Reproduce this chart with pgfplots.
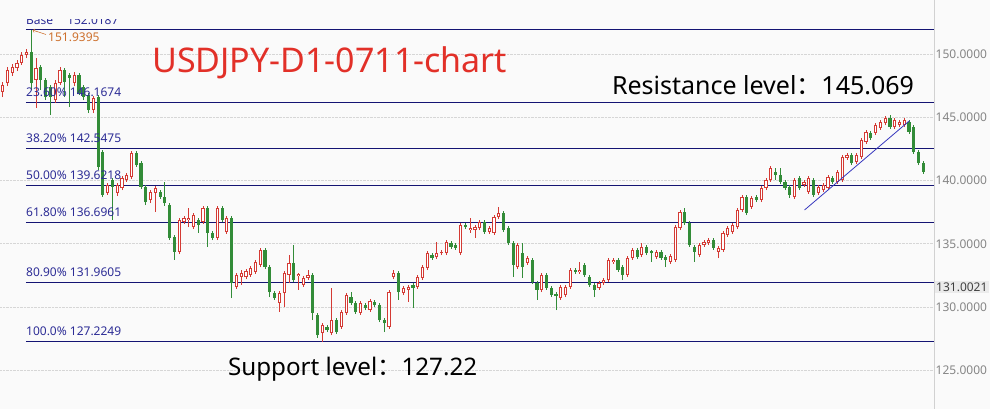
\documentclass[border=0pt]{standalone}
\usepackage{fontspec}
\setmainfont{Noto Sans}
\newfontfamily\cjk{Noto Sans CJK SC}
\usepackage{pgfplots}
\usepackage{pgfplotstable}
\pgfplotsset{compat=1.18}

\definecolor{upred}{RGB}{212,58,52}
\definecolor{dngreen}{RGB}{50,140,56}
\definecolor{fibline}{RGB}{20,20,115}
\definecolor{fibtext}{RGB}{45,45,150}
\definecolor{titlered}{RGB}{226,48,40}
\definecolor{basetxt}{RGB}{205,112,45}
\definecolor{trendblue}{RGB}{55,55,190}

% daily candles, rising (red, hollow)
\pgfplotstableread{
i O H L C
0 147.03 147.82 146.63 147.58
1 147.74 149.01 147.50 148.77
2 148.53 149.25 148.30 149.01
3 148.93 149.56 148.69 149.33
4 149.33 150.20 149.17 149.96
5 149.96 150.44 149.72 150.20
7 147.98 149.72 145.76 148.93
11 146.39 147.98 146.16 147.74
12 147.74 149.01 147.58 148.77
15 147.74 148.61 147.50 148.38
19 145.60 146.71 145.36 146.55
22 139.03 139.82 138.87 139.66
24 139.03 139.82 138.79 139.66
25 139.42 140.37 139.26 140.21
26 140.06 140.61 139.90 140.45
27 140.29 142.35 140.13 142.19
31 138.47 139.26 138.23 139.10
32 139.03 139.58 137.52 139.42
37 134.35 137.04 134.19 136.89
38 136.73 137.20 136.57 137.04
39 136.89 137.84 136.33 137.04
40 136.33 137.44 136.17 137.28
42 136.73 138.00 136.57 137.84
45 135.46 138.00 135.30 137.84
47 135.93 137.20 135.78 137.04
49 131.58 132.69 131.42 132.53
50 132.37 132.92 131.74 132.69
51 132.37 133.00 132.21 132.84
52 132.53 133.24 132.37 133.08
53 132.77 133.72 132.61 133.56
54 133.32 134.67 133.16 134.51
58 130.31 131.26 129.60 131.10
59 131.10 132.84 129.99 132.69
60 132.53 134.11 131.89 133.48
62 132.45 132.69 131.34 132.61
63 131.74 132.45 131.58 132.29
64 132.29 132.92 132.13 132.53
67 127.93 128.72 127.22 128.57
69 127.93 131.50 127.77 128.96
71 128.41 129.75 128.25 129.60
72 129.52 131.10 129.36 130.94
75 129.52 130.47 129.36 130.31
77 129.75 130.63 129.60 130.47
81 128.41 131.34 128.25 131.18
82 132.37 132.92 132.21 132.69
84 131.10 131.66 130.94 131.50
85 131.34 131.74 130.39 131.58
87 131.58 132.53 131.42 132.37
88 132.29 133.32 132.13 133.16
89 133.08 134.43 132.92 134.27
91 133.95 135.14 133.80 134.27
92 134.27 134.51 134.11 134.35
93 134.27 135.30 134.11 135.14
96 134.27 136.65 134.11 136.49
98 136.09 137.04 135.86 136.25
99 136.09 136.49 135.46 136.33
100 136.25 136.89 136.09 136.73
102 135.93 136.41 135.78 136.25
103 135.86 137.28 135.70 137.12
104 137.12 137.92 136.96 137.44
108 133.16 135.06 133.00 134.90
110 133.48 134.03 133.32 133.87
113 131.34 132.69 131.18 132.53
117 130.70 131.74 130.55 131.58
118 130.94 131.74 130.78 131.58
119 131.58 133.08 131.42 132.92
121 132.77 133.56 132.61 132.92
125 131.50 132.05 131.34 131.89
126 131.89 132.29 131.74 132.13
127 132.13 133.87 131.97 133.72
128 133.56 133.87 133.40 133.72
131 132.53 134.03 132.37 133.87
132 133.87 134.67 133.72 134.51
134 134.11 135.06 133.95 134.75
137 133.95 134.51 133.80 134.35
140 133.56 134.19 133.40 134.03
141 133.72 136.49 133.56 136.33
142 136.25 137.68 136.09 137.52
146 134.11 135.06 133.95 134.90
147 134.90 135.30 134.75 135.14
148 135.06 135.46 134.90 135.30
150 134.35 134.83 133.87 134.67
151 134.51 136.01 134.35 135.86
152 135.70 136.41 135.54 136.25
153 135.93 136.65 135.78 136.49
154 136.33 137.84 136.17 137.68
155 137.68 138.87 137.52 138.71
157 137.92 138.79 137.76 138.63
159 138.47 139.58 138.31 139.42
160 139.42 140.21 139.26 140.06
161 140.06 141.16 139.90 141.01
166 138.71 140.21 138.55 140.06
168 139.66 140.06 139.50 139.90
169 139.10 140.37 138.95 140.21
171 139.03 139.66 138.87 139.50
172 139.26 139.82 139.10 139.66
173 139.42 140.45 139.26 140.29
175 139.90 140.85 139.74 140.69
176 140.06 142.04 139.90 141.88
177 141.80 142.19 141.64 142.04
179 141.48 142.19 141.32 142.04
180 141.88 143.38 141.72 143.22
181 143.07 144.02 142.91 143.86
183 143.78 144.57 143.62 144.41
184 144.18 144.81 144.02 144.65
185 144.57 145.13 144.41 144.97
187 144.26 144.97 144.10 144.81
188 144.41 144.81 144.26 144.65
189 144.41 144.97 144.26 144.81
}\upcandles

% daily candles, falling (green, filled)
\pgfplotstableread{
i O H L C
6 150.20 151.94 147.19 147.74
8 149.01 149.17 147.19 147.98
9 147.98 148.14 146.39 146.63
10 147.42 147.58 145.21 146.63
13 148.77 148.93 146.63 147.82
14 148.38 148.53 145.84 148.14
16 148.38 148.53 146.79 146.95
17 147.42 147.58 146.39 146.63
18 146.79 146.95 145.36 145.60
20 146.63 146.79 140.85 141.09
21 142.27 142.43 138.71 138.87
23 140.06 140.21 136.89 139.50
28 142.19 142.35 141.09 141.24
29 141.40 141.56 139.34 139.50
30 139.50 139.66 138.07 138.31
33 139.10 139.26 138.55 138.71
34 138.71 139.90 138.00 138.23
35 138.07 138.23 135.30 135.46
36 135.54 135.70 133.72 134.35
41 136.89 137.04 135.86 136.49
43 137.84 138.00 134.75 135.86
44 135.86 136.01 135.30 135.46
46 137.84 138.00 136.73 136.89
48 137.04 137.20 130.70 131.89
55 134.51 134.67 133.00 133.16
56 133.16 133.32 130.78 131.18
57 131.10 131.26 130.55 130.70
61 133.48 134.90 131.97 132.13
65 132.53 132.69 128.96 129.52
66 129.36 129.52 127.54 127.77
68 128.41 128.57 128.01 128.17
70 128.96 129.12 127.85 128.01
73 130.78 131.18 130.15 130.31
74 130.31 130.47 129.44 129.60
76 130.15 130.31 129.75 129.91
78 130.39 130.55 129.99 130.15
79 130.15 130.31 128.80 128.96
80 128.96 129.12 128.01 128.72
83 132.69 132.84 130.55 131.18
86 131.74 131.89 129.91 131.50
90 134.11 134.27 133.72 133.87
94 135.06 135.22 134.59 134.75
95 134.90 135.06 134.51 134.67
97 136.49 136.65 136.17 136.33
101 136.73 136.89 135.78 135.93
105 137.44 137.60 135.93 136.09
106 136.25 136.41 134.90 135.06
107 135.06 135.22 132.37 133.32
109 134.27 135.06 132.29 133.16
111 133.72 133.87 131.81 131.97
112 131.89 132.05 130.55 131.34
114 132.53 132.69 131.34 131.50
115 131.50 131.66 130.78 130.94
116 131.02 131.18 129.75 130.86
120 132.92 133.08 132.61 132.77
122 133.32 133.48 132.37 132.53
123 132.37 132.53 131.58 131.74
124 131.74 131.89 130.78 131.34
129 133.72 133.87 132.77 132.92
130 133.16 133.32 132.13 132.53
133 134.51 134.67 133.80 133.95
135 134.75 134.90 134.11 134.27
136 134.43 134.51 133.56 134.27
138 134.35 134.51 133.72 133.87
139 133.95 134.11 133.16 133.72
143 137.52 137.84 136.49 136.65
144 136.65 136.81 134.75 134.90
145 134.75 134.90 133.56 134.35
149 135.30 135.46 134.51 134.67
156 138.71 138.87 137.28 137.44
158 138.71 138.87 138.31 138.47
162 140.69 141.01 140.06 140.45
163 140.45 141.01 139.74 139.90
164 139.90 140.06 139.26 139.42
165 139.50 139.66 138.63 138.87
167 140.21 140.37 139.26 139.42
170 140.06 140.21 138.71 138.87
174 140.21 140.37 139.74 139.90
178 142.04 142.19 141.24 141.40
182 143.78 143.94 143.22 143.38
186 144.97 145.21 144.10 144.26
190 144.65 144.81 143.70 143.86
191 144.26 144.41 142.12 142.27
192 142.27 142.43 141.24 141.40
193 141.40 141.56 140.53 140.69
}\downcandles

\begin{document}
\begin{tikzpicture}
\path[use as bounding box] (0,0) rectangle (990pt,409pt);
\fill[black!2] (0,0) rectangle (990pt,409pt);
\begin{axis}[
    scale only axis,
    width=934pt, height=392pt,
    xmin=-0.566, xmax=195.24,
    ymin=121.91, ymax=152.97,
    axis line style={draw=none},
    xtick=\empty,
    ytick={125,130,135,140,145,150},
    yticklabel pos=right,
    major tick length=0pt,
    yticklabel={\fontsize{12}{12}\selectfont\pgfmathprintnumber[fixed,fixed zerofill,precision=4,assume math mode=true]{\tick}},
    yticklabel style={text=black!48, anchor=west, inner xsep=1.5pt},
    ymajorgrids,
    grid style={densely dotted, black!16, line width=0.7pt},
]
% fibonacci levels
\addplot[fibline, line width=0.9pt] coordinates {(4.88,152.0187) (195.24,152.0187)};
\addplot[fibline, line width=0.9pt] coordinates {(4.88,146.1674) (195.24,146.1674)};
\addplot[fibline, line width=0.9pt] coordinates {(4.88,142.5475) (195.24,142.5475)};
\addplot[fibline, line width=0.9pt] coordinates {(4.88,139.6218) (195.24,139.6218)};
\addplot[fibline, line width=0.9pt] coordinates {(4.88,136.6961) (195.24,136.6961)};
\addplot[fibline, line width=0.9pt] coordinates {(4.88,131.9605) (195.24,131.9605)};
\addplot[fibline, line width=0.9pt] coordinates {(4.88,127.2249) (195.24,127.2249)};

% green candles: wick, then body
\addplot[draw=none, mark=none, error bars/.cd, y dir=plus, y explicit, error mark=none,
    error bar style={draw=dngreen, line width=0.8pt}]
    table[x=i, y=L, y error expr={\thisrow{H}-\thisrow{L}}] {\downcandles};
\addplot[draw=none, mark=none, error bars/.cd, y dir=plus, y explicit, error mark=none,
    error bar style={draw=dngreen, line width=3.2pt}]
    table[x=i, y=C, y error expr={\thisrow{O}-\thisrow{C}}] {\downcandles};

% red candles: wick, outline, hollow middle
\addplot[draw=none, mark=none, error bars/.cd, y dir=plus, y explicit, error mark=none,
    error bar style={draw=upred, line width=0.8pt}]
    table[x=i, y=L, y error expr={\thisrow{H}-\thisrow{L}}] {\upcandles};
\addplot[draw=none, mark=none, error bars/.cd, y dir=plus, y explicit, error mark=none,
    error bar style={draw=upred, line width=3.2pt}]
    table[x=i, y=O, y error expr={\thisrow{C}-\thisrow{O}}] {\upcandles};
\addplot[draw=none, mark=none, error bars/.cd, y dir=plus, y explicit, error mark=none,
    error bar style={draw=white, line width=1.2pt}]
    table[x=i, y expr={\thisrow{O}+0.07}, y error expr={max(\thisrow{C}-\thisrow{O}-0.14,0)}] {\upcandles};

% trend line
\addplot[trendblue, line width=0.8pt] coordinates {(168.1,137.68) (190.1,144.75)};

% level labels
\begin{scope}[every node/.style={anchor=base west, inner sep=0pt, text=fibtext, font=\fontsize{12}{12}\selectfont}]
\node[yshift=6pt] at (axis cs:4.88,146.1674) {23.60\% 146.1674};
\node[yshift=6pt] at (axis cs:4.88,142.5475) {38.20\% 142.5475};
\node[yshift=6pt] at (axis cs:4.88,139.6218) {50.00\% 139.6218};
\node[yshift=6pt] at (axis cs:4.88,136.6961) {61.80\% 136.6961};
\node[yshift=6pt] at (axis cs:4.88,131.9605) {80.90\% 131.9605};
\node[yshift=6pt] at (axis cs:4.88,127.2249) {100.0\% 127.2249};
\end{scope}
\node[anchor=base west, inner sep=0pt, text=basetxt, font=\fontsize{12}{12}\selectfont] at (axis cs:9.5,150.99) {151.9395};
\draw[basetxt, line width=0.6pt, ->] (axis cs:9.07,151.585) -- (axis cs:6.3,151.93);

\node[anchor=base west, inner sep=0pt, text=titlered, font=\fontsize{34}{34}\selectfont] at (axis cs:31.3,148.61) {USDJPY-D1-0711-chart};
\node[anchor=base west, inner sep=0pt, font=\fontsize{25}{25}\selectfont] at (axis cs:127.7,146.79) {Resistance level{\cjk ：}145.069};
\node[anchor=base west, inner sep=0pt, font=\fontsize{24.2}{24.2}\selectfont] at (axis cs:47.2,124.60) {Support level{\cjk ：}127.22};
\end{axis}
% base label, cut at the top of the chart area
\begin{scope}
\clip (0pt,0pt) rectangle (934pt,389pt);
\node[anchor=base west, inner sep=0pt, text=fibtext, font=\fontsize{12}{12}\selectfont] at (26pt,384pt) {Base};
\node[anchor=base west, inner sep=0pt, text=fibtext, font=\fontsize{12}{12}\selectfont] at (67pt,384pt) {152.0187};
\end{scope}
\draw[black!18, line width=0.8pt] (934pt,0pt) -- (934pt,409pt);
\node[anchor=west, fill=black!8, inner xsep=1.5pt, inner ysep=1.5pt, text=black!75, font=\fontsize{12}{12}\selectfont] at (934.5pt,122pt) {131.0021};
\end{tikzpicture}
\end{document}
